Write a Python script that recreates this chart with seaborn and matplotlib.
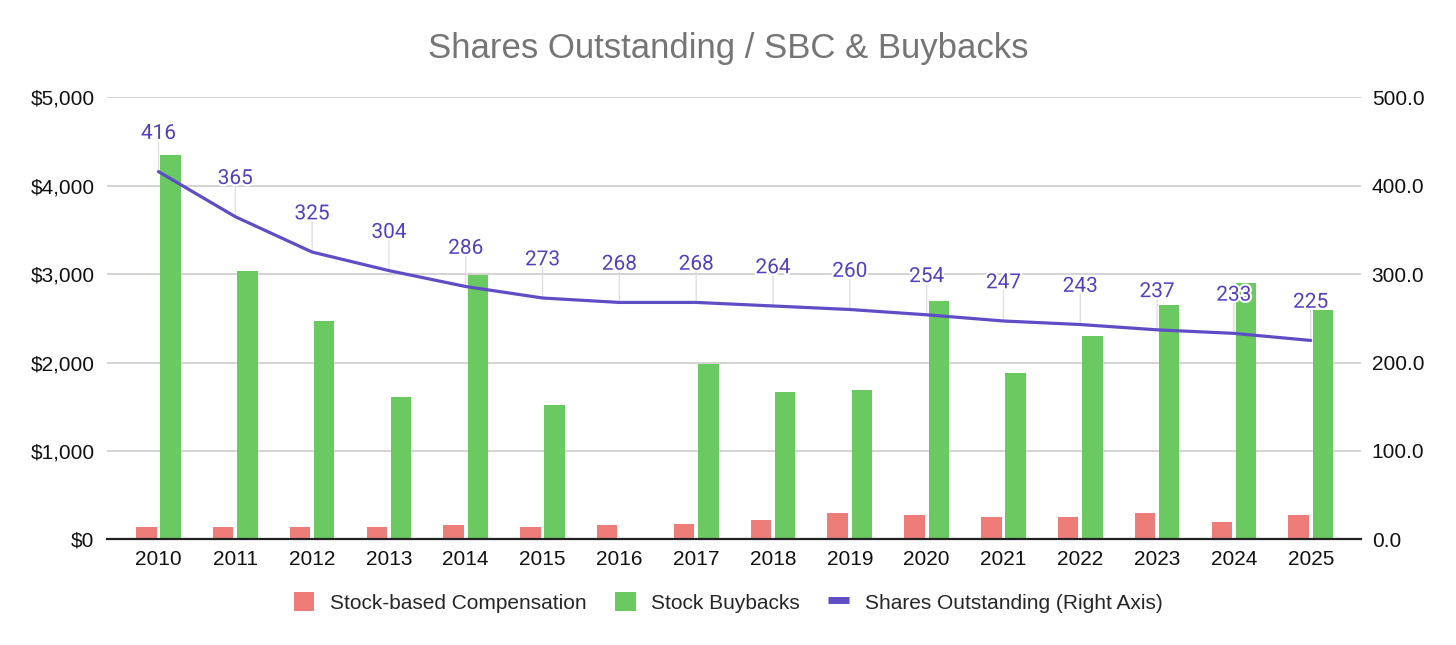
import numpy as np
import pandas as pd
import matplotlib
matplotlib.use("Agg")
import matplotlib.pyplot as plt
import matplotlib.patheffects as pe
from matplotlib.patches import Patch
from matplotlib.lines import Line2D
import seaborn as sns

years = ["2010", "2011", "2012", "2013", "2014", "2015", "2016", "2017",
         "2018", "2019", "2020", "2021", "2022", "2023", "2024", "2025"]
sbc = [136, 136, 136, 136, 158, 136, 158, 173, 215, 294, 271, 253, 253, 294, 192, 271]
buybacks = [4350, 3030, 2475, 1615, 2990, 1515, 0, 1985, 1670, 1690, 2695, 1885, 2300, 2655, 2900, 2595]
shares = [416, 365, 325, 304, 286, 273, 268, 268, 264, 260, 254, 247, 243, 237, 233, 225]

series_names = ["Stock-based Compensation", "Stock Buybacks"]
line_name = "Shares Outstanding (Right Axis)"
title = "Shares Outstanding / SBC & Buybacks"

RED = "#EE7D7A"
GREEN = "#6AC960"
PURPLE = "#5F4DC6"
LABEL = "#5440BE"

sns.set_theme(style="white")
plt.rcParams["font.family"] = ["Liberation Sans", "DejaVu Sans"]

df = pd.DataFrame({
    "year": years * 2,
    "value": sbc + buybacks,
    "series": [series_names[0]] * len(years) + [series_names[1]] * len(years),
})

fig = plt.figure(figsize=(14.56, 6.45), dpi=100)
ax = fig.add_axes([0.0735, 0.1639, 0.861, 0.6851])

sns.barplot(data=df, x="year", y="value", hue="series", order=years,
            hue_order=series_names, palette=[RED, GREEN], width=0.632, gap=0.16,
            saturation=1, ax=ax, legend=False, errorbar=None,
            edgecolor="none", linewidth=0)

ax.set_xlim(-0.67, 15.65)
ax.set_ylim(0, 5000)
ax.set_yticks([0, 1000, 2000, 3000, 4000, 5000])
ax.set_yticklabels(["$0", "$1,000", "$2,000", "$3,000", "$4,000", "$5,000"])
ax.yaxis.grid(True, color="#c8c8c8", linewidth=1.1)
ax.set_axisbelow(True)
ax.set_xlabel("")
ax.set_ylabel("")
for s in ["top", "left", "right"]:
    ax.spines[s].set_visible(False)
ax.spines["bottom"].set_color("#222222")
ax.spines["bottom"].set_linewidth(1.6)
ax.tick_params(axis="y", length=0, pad=9, labelsize=15, labelcolor="#111111")
ax.tick_params(axis="x", length=0, pad=8, labelsize=15, labelcolor="#111111")

ax2 = ax.twinx()
xpos = np.arange(len(years))
sns.lineplot(x=xpos, y=shares, ax=ax2, color=PURPLE, linewidth=2.3, legend=False)
ax2.set_ylim(0, 500)
ax2.set_yticks([0, 100, 200, 300, 400, 500])
ax2.set_yticklabels([f"{v:.1f}" for v in [0, 100, 200, 300, 400, 500]])
ax2.tick_params(axis="y", length=0, pad=8, labelsize=15, labelcolor="#111111")
ax2.grid(False)
for s in ["top", "left", "right", "bottom"]:
    ax2.spines[s].set_visible(False)
ax2.set_xlim(-0.67, 15.65)

for x, v in zip(xpos, shares):
    ax2.annotate("", xy=(x, v), xytext=(0, 26), textcoords="offset points",
                 arrowprops=dict(arrowstyle="-", color="#dddddd", lw=0.9,
                                 shrinkA=0, shrinkB=0), zorder=1)
    ax2.annotate(f"{v}", xy=(x, v), xytext=(0, 27.5), textcoords="offset points",
                 ha="center", va="center", fontsize=15, color=LABEL,
                 family=["Roboto", "DejaVu Sans"],
                 path_effects=[pe.withStroke(linewidth=3, foreground="white")])

fig.text(0.5, 0.925, title, ha="center", va="center", fontsize=25, color="#757575")

handles = [
    Patch(facecolor=RED, edgecolor="none"),
    Patch(facecolor=GREEN, edgecolor="none"),
    Line2D([0], [0], color=PURPLE, linewidth=5, solid_capstyle="butt"),
]
fig.legend(handles, series_names + [line_name], loc="center", ncol=3,
           bbox_to_anchor=(0.5, 0.066), frameon=False, fontsize=15,
           handlelength=1.0, handleheight=1.0, handletextpad=0.75,
           columnspacing=1.35)

fig.savefig("out.png", dpi=100)
